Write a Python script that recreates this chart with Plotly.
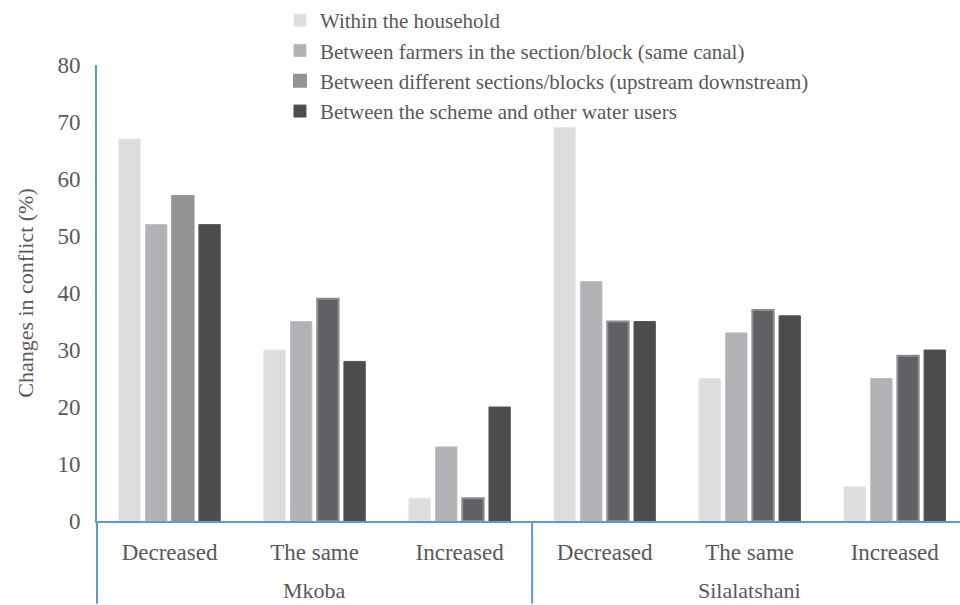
import plotly.graph_objects as go

schemes = ["Mkoba", "Mkoba", "Mkoba", "Silalatshani", "Silalatshani", "Silalatshani"]
changes = ["Decreased", "The same", "Increased", "Decreased", "The same", "Increased"]

within_household = [67, 30, 4, 69, 25, 6]
between_farmers = [52, 35, 13, 42, 33, 25]
between_sections = [57, 39, 4, 35, 37, 29]
scheme_other_users = [52, 28, 20, 35, 36, 30]

series_names = [
    "Within the household",
    "Between farmers in the section/block (same canal)",
    "Between different sections/blocks (upstream downstream)",
    "Between the scheme and other water users",
]

y_ticks = [0, 10, 20, 30, 40, 50, 60, 70, 80]

FONT = "Liberation Serif"
TXT = "#595959"
BLUE = "#5b9bd5"

# unique category keys so that repeated change labels stay separate
cat_keys = [f"{s}|{c}" for s, c in zip(schemes, changes)]

fig = go.Figure()

fig.add_trace(go.Bar(x=cat_keys, y=within_household, name=series_names[0],
                     marker=dict(color="#dcdddf", line=dict(color="#e4e5e7", width=1))))
fig.add_trace(go.Bar(x=cat_keys, y=between_farmers, name=series_names[1],
                     marker=dict(color="#b1b2b5", line=dict(color="#bcbdc0", width=1))))
sec_colors = ["#939496"] + ["#606165"] * 5
sec_lines = ["#939496"] + ["#8c8d90"] * 5
fig.add_trace(go.Bar(x=cat_keys, y=between_sections, name=series_names[2],
                     marker=dict(color=sec_colors, line=dict(color=sec_lines, width=2))))
fig.add_trace(go.Bar(x=cat_keys, y=scheme_other_users, name=series_names[3],
                     marker=dict(color="#4c4c4e", line=dict(color="#555557", width=1))))

# group labels and dividers
groups = []
for i, s in enumerate(schemes):
    if not groups or groups[-1][0] != s:
        groups.append([s, i, i])
    else:
        groups[-1][2] = i

MT, MB = 58, 84
PLOT_H = 605 - MT - MB
bottom_frac = -MB / PLOT_H
annotations = []
shapes = []
for name, i0, i1 in groups:
    annotations.append(dict(
        x=(i0 + i1) / 2, xref="x", y=-71 / PLOT_H, yref="paper",
        text=name, showarrow=False, xanchor="center", yanchor="middle",
        font=dict(family=FONT, size=22, color=TXT),
    ))
    if i0 == 0:
        shapes.append(dict(
            type="line", xref="paper", yref="paper",
            x0=0, x1=0, y0=0, y1=bottom_frac,
            line=dict(color=BLUE, width=2),
        ))
    else:
        shapes.append(dict(
            type="line", xref="x", yref="paper",
            x0=i0 - 0.5, x1=i0 - 0.5, y0=0, y1=bottom_frac,
            line=dict(color=BLUE, width=2),
        ))

fig.update_layout(
    width=960, height=605,
    margin=dict(l=97, r=0, t=MT, b=MB),
    paper_bgcolor="white", plot_bgcolor="white",
    barmode="group", bargap=0.264, bargroupgap=0.2,
    font=dict(family=FONT, color=TXT, size=21),
    legend=dict(
        xref="paper", yref="paper",
        x=0.212, y=1 + 66 / PLOT_H, xanchor="left", yanchor="top",
        font=dict(family=FONT, size=21, color=TXT),
        bgcolor="rgba(0,0,0,0)", borderwidth=0,
        tracegroupgap=0, itemwidth=30,
    ),
    showlegend=True,
    annotations=annotations,
    shapes=shapes,
)

fig.update_xaxes(
    type="category",
    categoryorder="array", categoryarray=cat_keys,
    tickmode="array", tickvals=cat_keys, ticktext=changes,
    range=[-0.5, 5.45],
    showline=True, linecolor=BLUE, linewidth=2,
    showgrid=False, ticks="",
    tickfont=dict(family=FONT, size=23, color=TXT),
    ticklabelstandoff=9,
    zeroline=False, automargin=False,
)
fig.update_yaxes(
    range=[0, 80],
    tickvals=y_ticks,
    showline=True, linecolor=BLUE, linewidth=2,
    showgrid=False, ticks="", zeroline=False,
    tickfont=dict(family=FONT, size=23, color=TXT),
    ticklabelstandoff=10,
    automargin=False,
    title=dict(text="Changes in conflict (%)", font=dict(family=FONT, size=22, color=TXT), standoff=18),
)

fig.write_html(
    "out.html",
    config={"displayModeBar": False},
    post_script="document.body.style.margin='0';document.body.style.overflow='hidden';",
)
